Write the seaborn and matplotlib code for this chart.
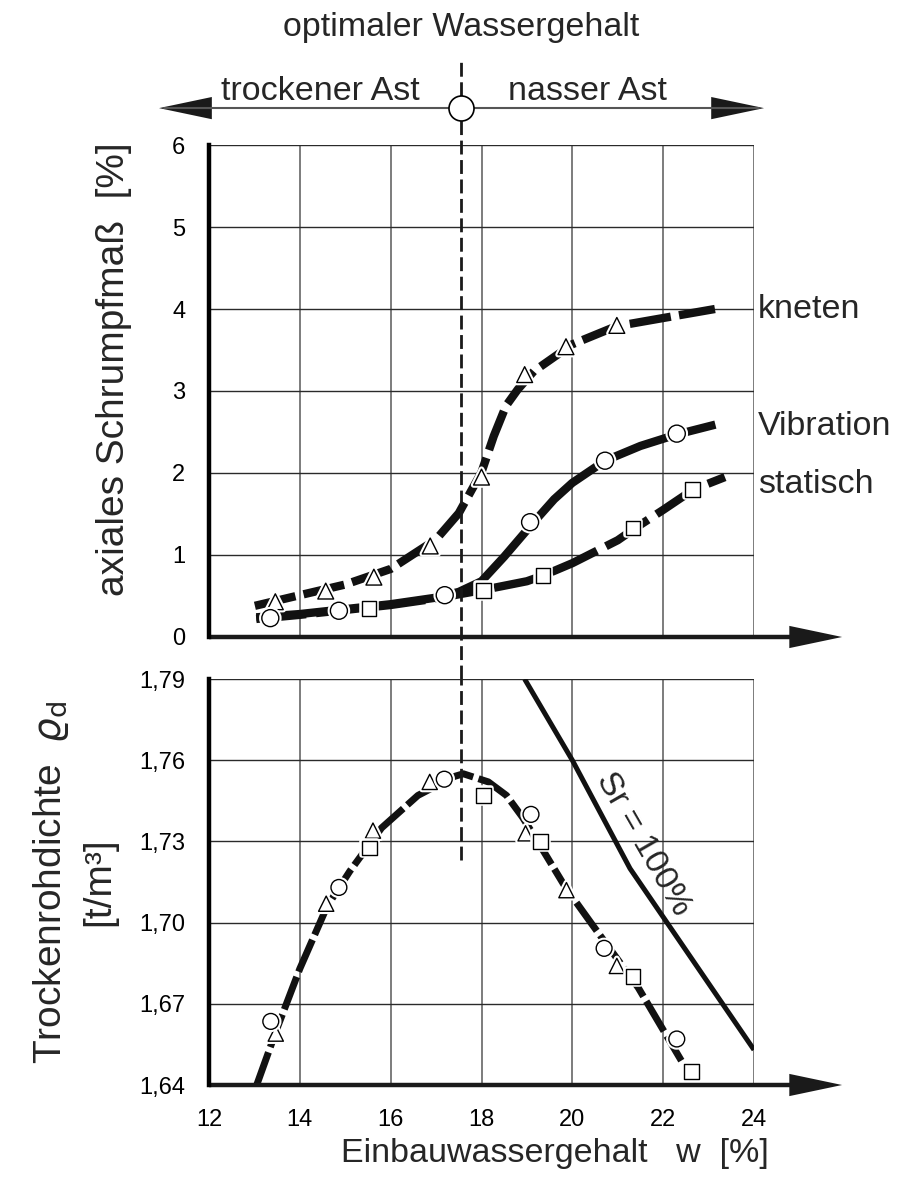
import numpy as np
import pandas as pd
import matplotlib
matplotlib.use("Agg")
import matplotlib.pyplot as plt
import matplotlib.patheffects as pe
import seaborn as sns

# ---------------- data ----------------
w_opt = 17.55  # optimaler Wassergehalt [%]

# axiales Schrumpfmass [%] - measured points
w_kneten_s = [13.46, 14.57, 15.63, 16.87, 18.00, 18.95, 19.86, 20.98]
s_kneten = [0.43, 0.56, 0.73, 1.11, 1.95, 3.20, 3.54, 3.80]
w_vib_s = [13.35, 14.86, 17.19, 19.07, 20.72, 22.30]
s_vib = [0.23, 0.32, 0.51, 1.40, 2.15, 2.48]
w_stat_s = [15.52, 18.04, 19.35, 21.34, 22.64]
s_stat = [0.35, 0.57, 0.75, 1.33, 1.80]

# shrinkage trend curves
cw_kneten = [13.01, 14.0, 15.0, 16.0, 17.0, 17.5, 18.0, 18.27, 18.54, 18.8, 19.15, 20.0, 20.97, 22.0, 23.14]
cs_kneten = [0.38, 0.51, 0.64, 0.83, 1.19, 1.51, 2.01, 2.45, 2.82, 3.02, 3.24, 3.57, 3.79, 3.89, 4.00]
cw_vib = [13.04, 14.0, 15.0, 16.0, 17.0, 17.5, 18.0, 18.5, 19.15, 19.6, 20.0, 20.72, 21.5, 22.3, 23.15]
cs_vib = [0.24, 0.28, 0.34, 0.40, 0.48, 0.55, 0.68, 0.98, 1.40, 1.68, 1.88, 2.15, 2.33, 2.47, 2.59]
cw_stat = [13.04, 14.0, 15.0, 16.0, 17.0, 17.5, 18.0, 19.0, 19.36, 20.0, 20.5, 21.0, 21.39, 22.0, 22.67, 23.36]
cs_stat = [0.22, 0.27, 0.33, 0.39, 0.47, 0.52, 0.57, 0.68, 0.75, 0.90, 1.04, 1.18, 1.33, 1.55, 1.80, 1.95]

# Trockenrohdichte [t/m3] - measured points
w_kneten_d = [13.47, 14.58, 15.61, 16.86, 18.97, 19.87, 20.98]
d_kneten = [1.659, 1.707, 1.734, 1.752, 1.733, 1.712, 1.684]
w_vib_d = [13.36, 14.86, 17.18, 19.09, 20.70, 22.30]
d_vib = [1.6635, 1.713, 1.753, 1.740, 1.6905, 1.657]
w_stat_d = [15.53, 18.05, 19.30, 21.34, 22.62]
d_stat = [1.7276, 1.747, 1.730, 1.680, 1.645]

# Proctor curve
cw_dens = [13.05, 13.5, 14.0, 14.6, 15.1, 15.8, 16.6, 17.4, 17.6, 18.15, 18.55, 18.9, 19.2, 19.85, 20.45, 21.45, 22.4]
cd_dens = [1.640, 1.661, 1.683, 1.706, 1.719, 1.735, 1.747, 1.754, 1.755, 1.752, 1.747, 1.739, 1.731, 1.713, 1.699, 1.676, 1.649]

# Saettigungslinie Sr = 100 %
w_sat = [18.95, 20.0, 21.27, 24.0]
d_sat = [1.790, 1.760, 1.720, 1.653]

x_ticks = [12, 14, 16, 18, 20, 22, 24]
y_ticks_top = [0, 1, 2, 3, 4, 5, 6]
y_ticks_bot = [1.64, 1.67, 1.70, 1.73, 1.76, 1.79]
y_ticklabels_bot = ["1,64", "1,67", "1,70", "1,73", "1,76", "1,79"]

# ---------------- style ----------------
sns.set_theme(style="white")
plt.rcParams["font.family"] = ["Liberation Sans", "DejaVu Sans"]
plt.rcParams["mathtext.fontset"] = "dejavusans"

BIG = 24.5
fig = plt.figure(figsize=(8.99, 11.77), dpi=100)
ax1 = fig.add_axes([0.2325, 0.4588, 0.6062, 0.418])
ax2 = fig.add_axes([0.2325, 0.07816, 0.6062, 0.3449])

ARROW = dict(arrowstyle="-|>,head_length=3.8,head_width=0.8",
             mutation_scale=10, fc="k", ec="k", lw=0, shrinkA=0, shrinkB=0)


def base_axes(ax, ymin, ymax, yticks, ylabels=None):
    ax.set_xlim(12, 24)
    ax.set_ylim(ymin, ymax)
    ax.set_xticks(x_ticks)
    ax.set_yticks(yticks)
    if ylabels is not None:
        ax.set_yticklabels(ylabels)
    ax.grid(True, axis="x", color="#666666", lw=1.2)
    ax.grid(True, axis="y", color="#2a2a2a", lw=1.0)
    ax.set_axisbelow(True)
    for s in ["top", "right", "bottom"]:
        ax.spines[s].set_visible(False)
    ax.spines["left"].set_linewidth(3.2)
    ax.spines["left"].set_color("black")
    ax.spines["left"].set_zorder(6)
    ax.tick_params(axis="both", direction="out", length=13, width=1.0,
                   color="#444444", labelsize=17, pad=4, labelcolor="black")
    # x-axis with arrow
    ax.plot([12, 25.2], [ymin, ymin], color="k", lw=3.2, clip_on=False,
            solid_capstyle="butt", zorder=6)
    ax.annotate("", xy=(25.94, ymin), xytext=(24.75, ymin), xycoords="data",
                arrowprops=ARROW, annotation_clip=False, zorder=6)


base_axes(ax1, 0, 6, y_ticks_top)
base_axes(ax2, 1.64, 1.79, y_ticks_bot, y_ticklabels_bot)
ax1.tick_params(axis="x", labelbottom=False)

halo = [pe.withStroke(linewidth=4, foreground="white")]


def curve(ax, xs, ys, lw, dashes=None):
    df = pd.DataFrame({"w": xs, "v": ys})
    n0 = len(ax.lines)
    sns.lineplot(data=df, x="w", y="v", ax=ax, color="#111111", lw=lw, sort=False,
                 estimator=None, zorder=3)
    ln = ax.lines[n0]
    ln.set_solid_capstyle("butt")
    ln.set_dash_capstyle("butt")
    ln.set_solid_joinstyle("round")
    if dashes is not None:
        ln.set_linestyle((0, dashes))


def points(ax, xs, ys, marker, size):
    df = pd.DataFrame({"w": xs, "v": ys})
    n0 = len(ax.collections)
    sns.scatterplot(data=df, x="w", y="v", ax=ax, marker=marker, s=size,
                    color="white", edgecolor="black", linewidth=1.0, zorder=5)
    ax.collections[n0].set_path_effects(halo)
    ax.collections[n0].set_zorder(5)


# top panel curves
curve(ax1, cw_kneten, cs_kneten, 6, (5, 1))
curve(ax1, cw_stat, cs_stat, 6, (6, 1.2))
curve(ax1, cw_vib, cs_vib, 6)
points(ax1, w_kneten_s, s_kneten, "^", 130)
points(ax1, w_vib_s, s_vib, "o", 150)
points(ax1, w_stat_s, s_stat, "s", 110)

# bottom panel
curve(ax2, cw_dens, cd_dens, 5, (5, 0.8))
curve(ax2, w_sat, d_sat, 3.6)
points(ax2, w_kneten_d, d_kneten, "^", 120)
points(ax2, w_vib_d, d_vib, "o", 130)
points(ax2, w_stat_d, d_stat, "s", 110)

ax1.set_xlabel("")
ax2.set_xlabel("")

# optimum water content: dashed line through both panels
ax1.plot([w_opt, w_opt], [-0.512, 7.04], color="k", lw=2, dashes=(5, 2),
         clip_on=False, zorder=4)
ax2.plot([w_opt, w_opt], [1.723, 1.79], color="k", lw=2, dashes=(5, 2),
         clip_on=False, zorder=4)

# header arrow with circle
y_arr = 6.45
ax1.plot([11.0, 24.1], [y_arr, y_arr], color="#555555", lw=1.5, clip_on=False, zorder=4)
for tip, base in [(10.9, 12.07), (24.22, 23.06)]:
    ax1.annotate("", xy=(tip, y_arr), xytext=(base, y_arr), xycoords="data",
                 arrowprops=ARROW, annotation_clip=False)
ax1.plot([w_opt], [y_arr], marker="o", ms=18, mfc="white", mec="black", mew=1.2,
         clip_on=False, zorder=7)

ax1.text(w_opt, 7.33, "optimaler Wassergehalt", ha="center", va="baseline",
         fontsize=BIG, clip_on=False)
ax1.text(12.26, 6.55, "trockener Ast", ha="left", va="baseline", fontsize=BIG, clip_on=False)
ax1.text(18.59, 6.55, "nasser Ast", ha="left", va="baseline", fontsize=BIG, clip_on=False)

# curve labels
ax1.text(24.09, 4.0, "kneten", ha="left", va="center", fontsize=BIG, clip_on=False)
ax1.text(24.09, 2.57, "Vibration", ha="left", va="center", fontsize=BIG, clip_on=False)
ax1.text(24.09, 1.86, "statisch", ha="left", va="center", fontsize=BIG, clip_on=False)

ax2.text(21.56, 1.729, "Sr = 100%", rotation=-60, rotation_mode="anchor",
         ha="center", va="center", fontsize=BIG)

# axis labels
ax1.set_ylabel("axiales Schrumpfmaß  [%]", fontsize=28)
ax1.yaxis.set_label_coords(-0.141, 0.545)
ax2.set_ylabel("Trockenrohdichte  $\\varrho_{\\rm d}$\n[t/m³]", fontsize=28, linespacing=1.35)
ax2.yaxis.set_label_coords(-0.169, 0.5)
ax2.set_xlabel("Einbauwassergehalt   w  [%]", fontsize=BIG)
ax2.xaxis.set_label_coords(0.635, -0.13)

fig.savefig("out.png", dpi=100)
